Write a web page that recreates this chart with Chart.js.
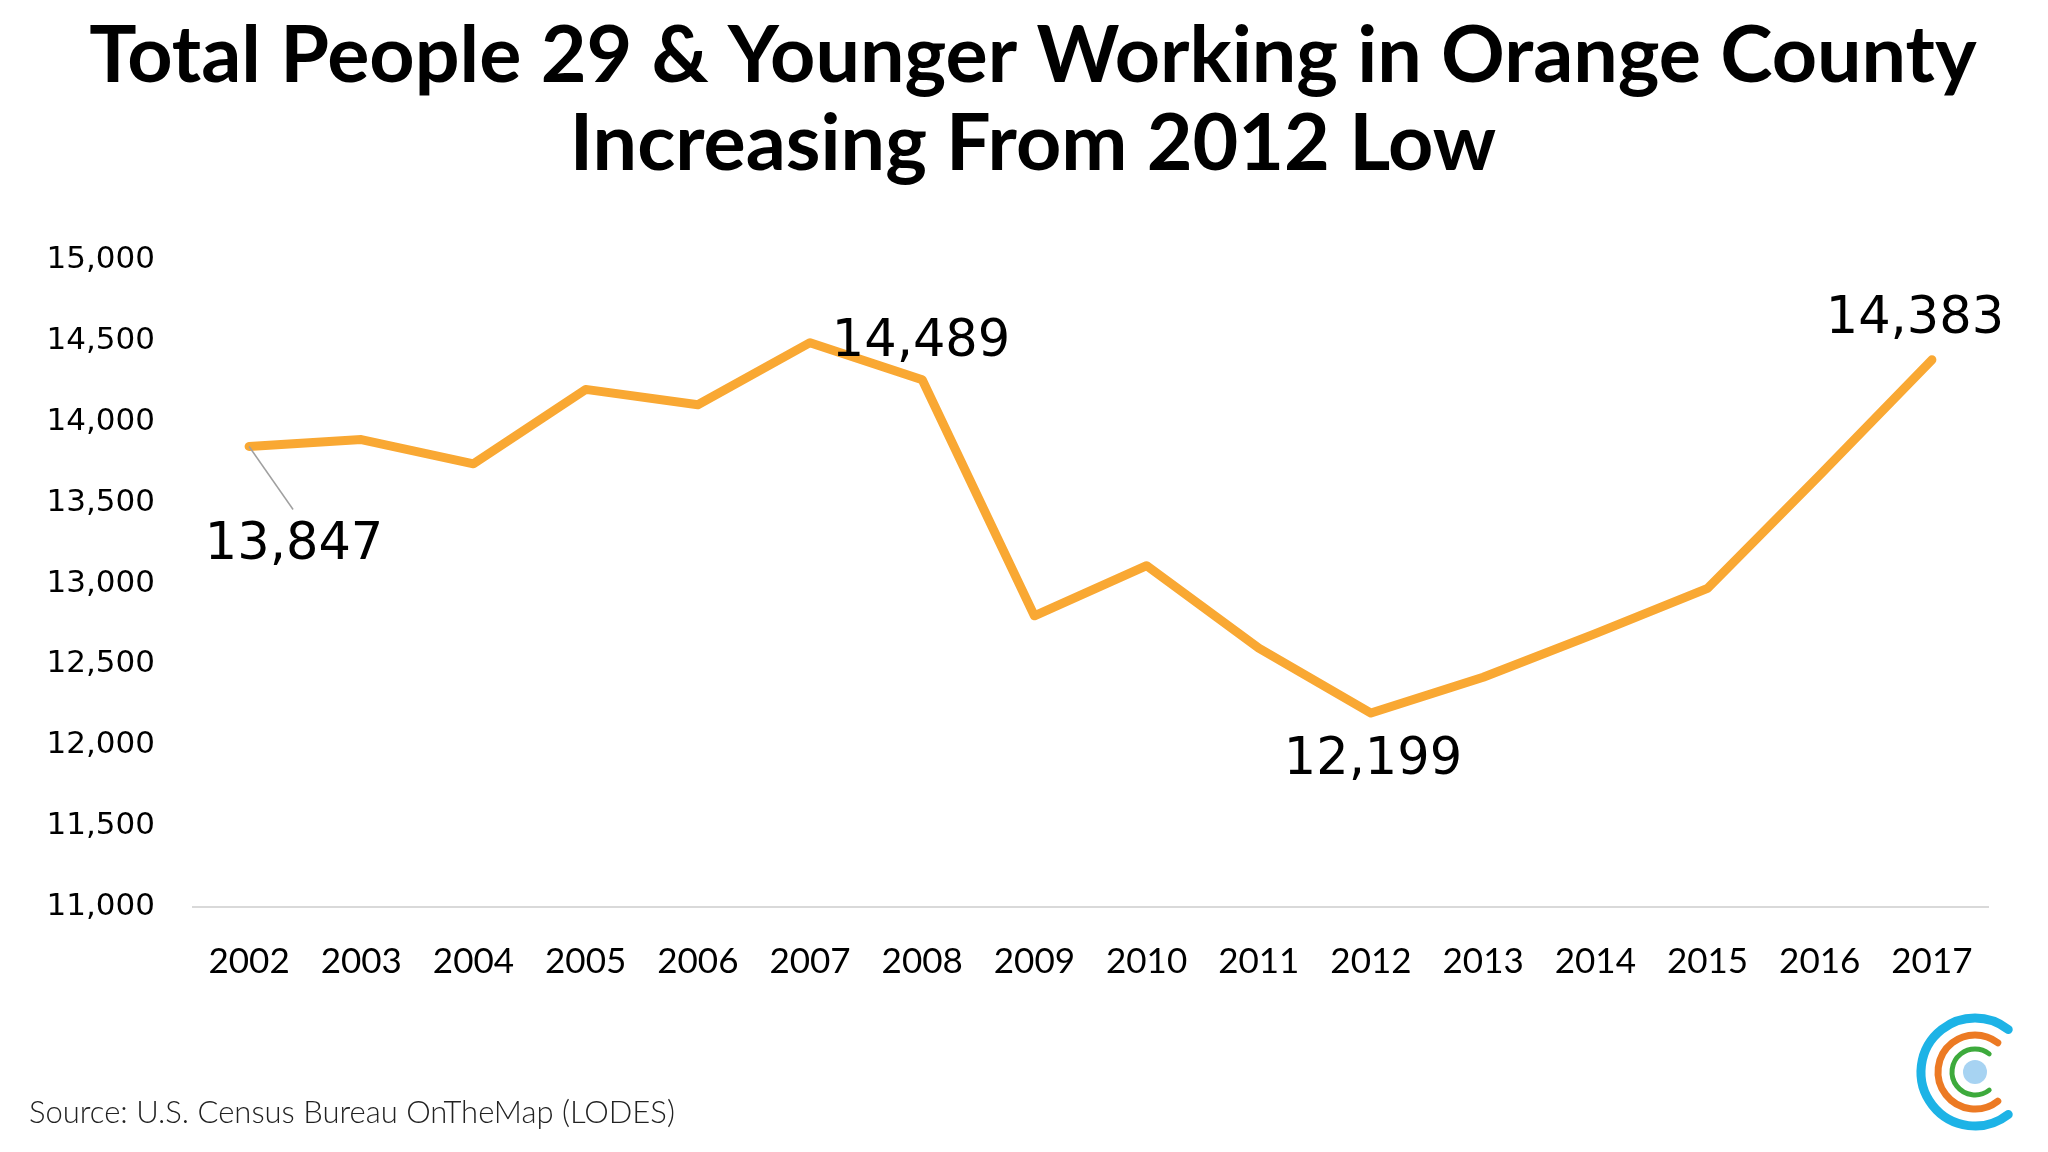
<!DOCTYPE html>
<html>
<head>
<meta charset="utf-8">
<script src="https://cdn.jsdelivr.net/npm/chart.js@4.4.1/dist/chart.umd.min.js"></script>
<style>
  html, body { margin: 0; padding: 0; background: #fff; }
  #wrap { width: 2048px; height: 1152px; }
</style>
</head>
<body>
<div id="wrap"><canvas id="chart" width="2048" height="1152"></canvas></div>
<script>
// data
const years = ['2002', '2003', '2004', '2005', '2006', '2007', '2008', '2009',
               '2010', '2011', '2012', '2013', '2014', '2015', '2016', '2017'];
const workers = [13847, 13890, 13740, 14200, 14105, 14489, 14260, 12800,
                 13110, 12600, 12199, 12420, 12690, 12970, 13670, 14383];
const labelled = [0, 5, 10, 15];   // points that carry a value label
const yMin = 11000, yMax = 15000, yStep = 500;
const titleLines = ['Total People 29 & Younger Working in Orange County',
                    'Increasing From 2012 Low'];
const sourceText = 'Source: U.S. Census Bureau OnTheMap (LODES)';

const orange = '#F9A833';

// label offsets from their point, in px
const labelOffsets = {
  0:  { dx: 45,  dy: 99, leader: { dx: 44, dy: 63 } },
  5:  { dx: 111, dy: 0 },
  10: { dx: 2,   dy: 48 },
  15: { dx: -17, dy: -40 }
};

// title sits a bit right of the page centre, so it's drawn by hand
const headline = {
  id: 'headline',
  afterDraw(chart) {
    const { ctx } = chart;
    ctx.save();
    ctx.fillStyle = '#000';
    ctx.font = 'bold 79px Lato';
    ctx.textAlign = 'center';
    ctx.textBaseline = 'middle';
    titleLines.forEach((line, i) => ctx.fillText(line, 1033, 57 + i * 88));
    ctx.restore();
  }
};

const valueLabels = {
  id: 'valueLabels',
  afterDatasetsDraw(chart) {
    const { ctx } = chart;
    const meta = chart.getDatasetMeta(0);
    ctx.save();
    labelled.forEach(i => {
      const pt = meta.data[i];
      const off = labelOffsets[i];
      if (off.leader) {
        ctx.strokeStyle = '#A0A0A0';
        ctx.lineWidth = 1.5;
        ctx.beginPath();
        ctx.moveTo(pt.x, pt.y);
        ctx.lineTo(pt.x + off.leader.dx, pt.y + off.leader.dy);
        ctx.stroke();
      }
      ctx.fillStyle = '#000';
      ctx.font = '51px "DejaVu Sans"';
      ctx.textAlign = 'center';
      ctx.textBaseline = 'middle';
      ctx.fillText(workers[i].toLocaleString('en-US'), pt.x + off.dx, pt.y + off.dy);
    });
    ctx.restore();
  }
};

const footer = {
  id: 'footer',
  afterDraw(chart) {
    const { ctx } = chart;
    ctx.save();
    ctx.fillStyle = '#222';
    ctx.font = '300 31px Lato';
    ctx.textAlign = 'left';
    ctx.textBaseline = 'middle';
    ctx.fillText(sourceText, 29, 1113);

    // logo: three open arcs and a dot
    const cx = 1975, cy = 1072;
    const gap = 52 * Math.PI / 180;
    const rings = [
      { r: 54, w: 9, c: '#1DB3E6' },
      { r: 37, w: 7, c: '#EC7A24' },
      { r: 23, w: 5, c: '#3DAA3C' }
    ];
    ctx.lineCap = 'round';
    rings.forEach(g => {
      ctx.strokeStyle = g.c;
      ctx.lineWidth = g.w;
      ctx.beginPath();
      ctx.arc(cx, cy, g.r, gap, 2 * Math.PI - gap);
      ctx.stroke();
    });
    ctx.fillStyle = '#A7D3F2';
    ctx.beginPath();
    ctx.arc(cx, cy, 12, 0, 2 * Math.PI);
    ctx.fill();
    ctx.restore();
  }
};

new Chart(document.getElementById('chart'), {
  type: 'line',
  data: {
    labels: years,
    datasets: [{
      data: workers,
      borderColor: orange,
      borderWidth: 9,
      borderJoinStyle: 'round',
      borderCapStyle: 'round',
      pointRadius: 0,
      tension: 0
    }]
  },
  options: {
    responsive: false,
    animation: false,
    layout: { padding: { top: 260, right: 60, bottom: 0, left: 0 } },
    plugins: {
      legend: { display: false },
      tooltip: { enabled: false },
      title: { display: false }
    },
    scales: {
      x: {
        offset: true,
        grid: { display: false, drawTicks: false },
        border: { display: true, color: '#D9D9D9', width: 2 },
        ticks: {
          color: '#000',
          font: { family: 'Lato', size: 35 },
          padding: 34,
          maxRotation: 0
        },
        afterFit(scale) { scale.height = 245; }
      },
      y: {
        min: yMin,
        max: yMax,
        grid: { display: false, drawTicks: false },
        border: { display: false },
        ticks: {
          stepSize: yStep,
          color: '#000',
          font: { family: 'DejaVu Sans', size: 31 },
          padding: 38,
          callback: v => v.toLocaleString('en-US')
        },
        afterFit(scale) { scale.width = 193; }
      }
    }
  },
  plugins: [headline, valueLabels, footer]
});
</script>
</body>
</html>
